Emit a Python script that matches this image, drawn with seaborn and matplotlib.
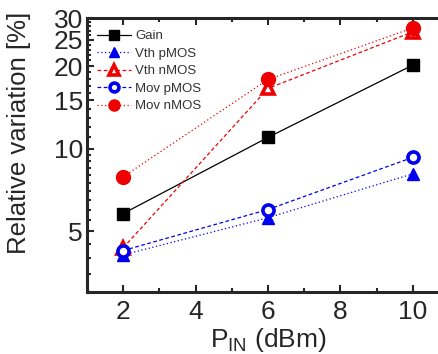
import matplotlib
matplotlib.use("Agg")
import matplotlib.pyplot as plt
import matplotlib.ticker as mticker
import seaborn as sns
import pandas as pd

x_dbm = [2, 6, 10]
gain = [5.8, 11.0, 20.2]
vth_pmos = [4.1, 5.6, 8.1]
vth_nmos = [4.35, 16.6, 26.7]
mov_pmos = [4.25, 6.0, 9.3]
mov_nmos = [7.9, 17.9, 27.6]

labels = ["Gain", "Vth pMOS", "Vth nMOS", "Mov pMOS", "Mov nMOS"]
series = [gain, vth_pmos, vth_nmos, mov_pmos, mov_nmos]
colors = ["black", "#0000ee", "#ee0000", "#0000ee", "#ee0000"]
markers = ["s", "^", "^", "o", "o"]
filled = [True, True, False, False, True]
styles = ["-", (0, (1, 2)), (0, (3, 2)), (0, (3, 2)), (0, (1, 2))]
msizes = [9, 9, 9, 8, 10]

sns.set_theme(style="ticks")
plt.rcParams["font.family"] = ["Liberation Sans", "DejaVu Sans"]
plt.rcParams["mathtext.fontset"] = "custom"
plt.rcParams["mathtext.rm"] = "Liberation Sans"

fig = plt.figure(figsize=(4.38, 3.54), dpi=100)
ax = fig.add_axes([87/438, 62/354, 362/438, 274/354])

for lab, ys, c, m, f, ls, ms in zip(labels, series, colors, markers, filled, styles, msizes):
    df = pd.DataFrame({"x": x_dbm, "y": ys})
    sns.lineplot(data=df, x="x", y="y", ax=ax, color=c, marker=m, markersize=ms,
                 linestyle=ls, linewidth=0.9, label=lab,
                 markerfacecolor=(c if f else "white"), markeredgecolor=c,
                 markeredgewidth=(1 if f else 2.6))

ax.set_yscale("log")
ax.set_xlim(1, 11)
ax.set_ylim(3, 30)
ax.yaxis.set_major_locator(mticker.FixedLocator([5, 10, 15, 20, 25, 30]))
ax.yaxis.set_major_formatter(mticker.FixedFormatter(["5", "10", "15", "20", "25", "30"]))
ax.yaxis.set_minor_locator(mticker.FixedLocator([v for v in [3, 3.5, 4, 4.5, 5.5, 6, 6.5, 7, 7.5, 8, 8.5, 9, 9.5]
                                                  + list(range(11, 30)) if v not in (5, 10, 15, 20, 25, 30)]))
ax.yaxis.set_minor_formatter(mticker.NullFormatter())
ax.xaxis.set_major_locator(mticker.FixedLocator([2, 4, 6, 8, 10]))
ax.xaxis.set_minor_locator(mticker.FixedLocator([3, 5, 7, 9]))

ax.tick_params(which="both", direction="in", top=True, right=True, labelsize=19, width=1.5, pad=3)
ax.tick_params(axis="x", which="major", pad=6)
ax.tick_params(which="major", length=5)
ax.tick_params(which="minor", length=3)
for s in ax.spines.values():
    s.set_linewidth(2.2)

ax.set_xlabel(r"P$_{\mathrm{IN}}$ (dBm)", fontsize=19, labelpad=1)
ax.set_ylabel("Relative variation [%]", fontsize=18.5, labelpad=2)
ax.yaxis.set_label_coords(-0.155, 0.58)

leg = ax.legend(loc="upper left", frameon=False, fontsize=9.5, handlelength=2.6,
                handletextpad=0.3, labelspacing=0.4, borderaxespad=0.2,
                bbox_to_anchor=(0.005, 0.985), labelcolor="#333333", markerscale=0.8)

fig.savefig("out.png", dpi=100, facecolor="white")
